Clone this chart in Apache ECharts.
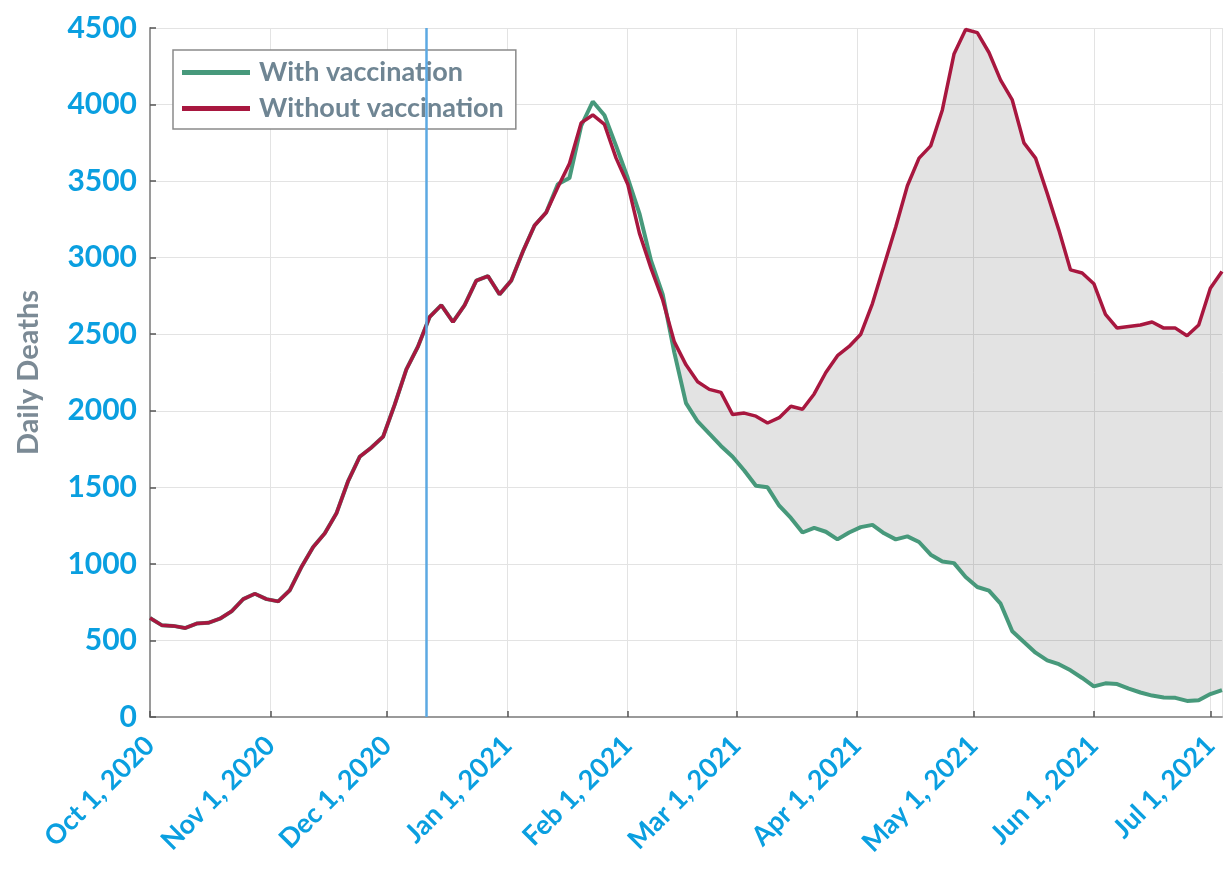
<!DOCTYPE html>
<html>
<head>
<meta charset="utf-8">
<script src="https://cdn.jsdelivr.net/npm/echarts@6/dist/echarts.min.js"></script>
<style>
html,body{margin:0;padding:0;background:#fff;}
#chart{width:1225px;height:876px;}
</style>
</head>
<body>
<div id="chart"></div>
<script>
// ---- data ----
const dates = [
'2020-10-01','2020-10-04','2020-10-07','2020-10-10','2020-10-13','2020-10-16','2020-10-19','2020-10-22','2020-10-25','2020-10-28',
'2020-10-31','2020-11-03','2020-11-06','2020-11-09','2020-11-12','2020-11-15','2020-11-18','2020-11-21','2020-11-24','2020-11-27',
'2020-11-30','2020-12-03','2020-12-06','2020-12-09','2020-12-12','2020-12-15','2020-12-18','2020-12-21','2020-12-24','2020-12-27',
'2020-12-30','2021-01-02','2021-01-05','2021-01-08','2021-01-11','2021-01-14','2021-01-17','2021-01-20','2021-01-23','2021-01-26',
'2021-01-29','2021-02-01','2021-02-04','2021-02-07','2021-02-10','2021-02-13','2021-02-16','2021-02-19','2021-02-22','2021-02-25',
'2021-02-28','2021-03-03','2021-03-06','2021-03-09','2021-03-12','2021-03-15','2021-03-18','2021-03-21','2021-03-24','2021-03-27',
'2021-03-30','2021-04-02','2021-04-05','2021-04-08','2021-04-11','2021-04-14','2021-04-17','2021-04-20','2021-04-23','2021-04-26',
'2021-04-29','2021-05-02','2021-05-05','2021-05-08','2021-05-11','2021-05-14','2021-05-17','2021-05-20','2021-05-23','2021-05-26',
'2021-05-29','2021-06-01','2021-06-04','2021-06-07','2021-06-10','2021-06-13','2021-06-16','2021-06-19','2021-06-22','2021-06-25',
'2021-06-28','2021-07-01','2021-07-04'
];
const withoutVacc = [
647,600,595,581,610,615,642,690,770,805,
770,755,828,980,1110,1200,1330,1540,1700,1760,
1830,2040,2270,2420,2613,2690,2580,2690,2850,2880,
2760,2850,3040,3210,3295,3460,3615,3880,3932,3870,
3650,3480,3160,2930,2724,2450,2300,2190,2140,2120,
1975,1985,1965,1920,1955,2030,2010,2110,2250,2360,
2420,2500,2700,2950,3200,3470,3650,3730,3965,4330,
4490,4470,4340,4160,4030,3750,3650,3420,3180,2920,
2900,2830,2630,2540,2550,2560,2580,2540,2540,2490,
2560,2800,2910
];
const withVacc = [
647,600,595,581,610,615,642,690,770,805,
770,755,828,980,1110,1200,1330,1540,1700,1760,
1830,2040,2270,2420,2613,2690,2580,2690,2850,2880,
2760,2850,3040,3210,3295,3480,3520,3860,4020,3930,
3730,3520,3290,2980,2760,2380,2050,1930,1850,1770,
1700,1610,1510,1500,1380,1300,1205,1235,1210,1160,
1205,1240,1255,1200,1160,1180,1143,1060,1015,1005,
914,849,825,740,560,490,420,370,345,305,
255,200,220,215,185,160,140,128,125,105,
110,150,176
];
const monthTicks = ['2020-10-01','2020-11-01','2020-12-01','2021-01-01','2021-02-01','2021-03-01','2021-04-01','2021-05-01','2021-06-01','2021-07-01'];
const monthLabels = ['Oct 1, 2020','Nov 1, 2020','Dec 1, 2020','Jan 1, 2021','Feb 1, 2021','Mar 1, 2021','Apr 1, 2021','May 1, 2021','Jun 1, 2021','Jul 1, 2021'];
const vaccineStart = '2020-12-11';
const xMin = '2020-10-01';
const xMax = '2021-07-04';

// ---- chart ----
const BLUE = '#0a9fe0';
const GRAYTXT = '#6f8593';
const GREEN = '#47997b';
const RED = '#a8173f';
const FONT = 'Lato, "Open Sans", sans-serif';
const DAY = 86400000;

const tickTs = monthTicks.map(d => echarts.time.parse(d).getTime());
const gap = withoutVacc.map((v, i) => Math.max(0, v - withVacc[i]));
function monthLabel(val) {
  const v = (typeof val === 'object' && val !== null) ? val.value : val;
  const i = tickTs.findIndex(t => Math.abs(t - v) < DAY / 2);
  return i >= 0 ? monthLabels[i] : '';
}

const chart = echarts.init(document.getElementById('chart'), null, {renderer: 'canvas'});
chart.setOption({
  animation: false,
  backgroundColor: '#ffffff',
  grid: {left: 150, right: 3, top: 28, bottom: 159, containLabel: false, outerBoundsMode: 'none'},
  legend: {
    orient: 'vertical',
    left: 173, top: 50,
    padding: [9, 12, 7, 9],
    itemGap: 9,
    itemWidth: 68, itemHeight: 5,
    icon: 'rect',
    backgroundColor: '#ffffff',
    borderColor: '#8a8a8a', borderWidth: 1.5, borderRadius: 0,
    data: ['With vaccination', 'Without vaccination'],
    textStyle: {color: GRAYTXT, fontSize: 27, fontWeight: 'bold', fontFamily: FONT, padding: [0, 0, 0, 4]}
  },
  xAxis: {
    type: 'time',
    min: xMin, max: xMax,
    minInterval: 28 * DAY, maxInterval: 31 * DAY,
    axisLine: {show: true, lineStyle: {color: '#9a9a9a', width: 2}},
    axisTick: {show: true, inside: true, length: 6, lineStyle: {color: '#555', width: 1.5}},
    minorTick: {show: false},
    axisLabel: {
      show: true, rotate: 45, margin: 24, hideOverlap: false, showMinLabel: true, showMaxLabel: false,
      color: BLUE, fontSize: 27, fontWeight: 'bold', fontFamily: FONT,
      formatter: monthLabel
    },
    splitLine: {show: true, lineStyle: {color: '#e3e3e3', width: 1}}
  },
  yAxis: {
    type: 'value',
    min: 0, max: 4500, interval: 500,
    name: 'Daily Deaths',
    nameLocation: 'middle',
    nameGap: 107,
    nameTextStyle: {color: '#7b8a95', fontSize: 29, fontWeight: 'bold', fontFamily: FONT},
    axisLine: {show: true, lineStyle: {color: '#9a9a9a', width: 2}},
    axisTick: {show: true, inside: true, length: 6, lineStyle: {color: '#555', width: 1.5}},
    axisLabel: {color: BLUE, fontSize: 30, fontWeight: 'bold', fontFamily: FONT, margin: 13,
      formatter: function (v) { return String(v); }},
    splitLine: {show: true, lineStyle: {color: '#e3e3e3', width: 1}}
  },
  series: [
    {
      name: 'base', type: 'line', stack: 'gap', silent: true, symbol: 'none',
      data: dates.map((d, i) => [d, withVacc[i]]),
      lineStyle: {opacity: 0}, z: 1
    },
    {
      name: 'gap', type: 'line', stack: 'gap', silent: true, symbol: 'none',
      data: dates.map((d, i) => [d, gap[i]]),
      lineStyle: {opacity: 0},
      areaStyle: {color: 'rgba(0,0,0,0.11)', opacity: 1}, z: 1
    },
    {
      name: 'With vaccination', type: 'line', symbol: 'none',
      data: dates.map((d, i) => [d, withVacc[i]]),
      itemStyle: {color: GREEN},
      lineStyle: {color: GREEN, width: 4}, z: 3
    },
    {
      name: 'Without vaccination', type: 'line', symbol: 'none',
      data: dates.map((d, i) => [d, withoutVacc[i]]),
      itemStyle: {color: RED},
      lineStyle: {color: RED, width: 3.5}, z: 4,
      markLine: {
        silent: true, symbol: ['none', 'none'], label: {show: false},
        lineStyle: {color: '#5ca9e2', width: 2.5, type: 'solid'},
        data: [{xAxis: vaccineStart}]
      }
    }
  ]
});
</script>
</body>
</html>
